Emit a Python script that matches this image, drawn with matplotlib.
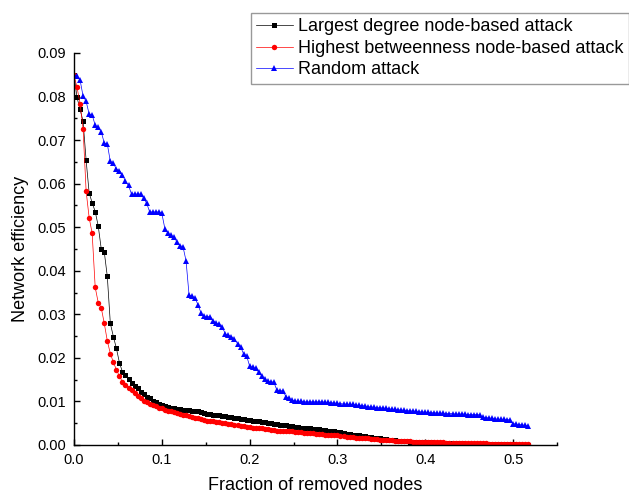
import numpy as np
import matplotlib
matplotlib.use("Agg")
import matplotlib.pyplot as plt
from matplotlib.ticker import MultipleLocator

plt.rcParams['font.family'] = ['Liberation Sans', 'DejaVu Sans']

# fraction of removed nodes = k / n_nodes
n_nodes = 290

degree_attack = [
    0.0849, 0.0798, 0.0771, 0.0743, 0.0654, 0.0579, 0.0556, 0.0536, 0.0503, 0.0450,
    0.0443, 0.0387, 0.0279, 0.0249, 0.0222, 0.0189, 0.0168, 0.0160, 0.0152, 0.0143,
    0.0136, 0.0130, 0.0122, 0.0117, 0.0111, 0.0107, 0.0102, 0.0098, 0.0094, 0.0091,
    0.0089, 0.0087, 0.0085, 0.0084, 0.0083, 0.0082, 0.0081, 0.0081, 0.0080, 0.0079,
    0.0078, 0.0077, 0.0076, 0.0074, 0.0072, 0.0071, 0.0070, 0.0069, 0.0068, 0.0067,
    0.0066, 0.0065, 0.0064, 0.0062, 0.0061, 0.0060, 0.0059, 0.0058, 0.0057, 0.0056,
    0.0055, 0.0054, 0.0053, 0.0052, 0.0051, 0.0050, 0.0049, 0.0048, 0.0047, 0.0046,
    0.0045, 0.0044, 0.0043, 0.0042, 0.0041, 0.0040, 0.0039, 0.0039, 0.0038, 0.0037,
    0.0037, 0.0036, 0.0035, 0.0034, 0.0033, 0.0032, 0.0031, 0.0030, 0.0029, 0.0027,
    0.0026, 0.0025, 0.0024, 0.0023, 0.0022, 0.0021, 0.0020, 0.0019, 0.0018, 0.0017,
    0.0016, 0.0015, 0.0014, 0.0013, 0.0012, 0.0012, 0.0011, 0.0010, 0.0010, 0.0009,
    0.0009, 0.0008, 0.0008, 0.0007, 0.0007, 0.0007, 0.0006, 0.0006, 0.0006, 0.0005,
    0.0005, 0.0005, 0.0005, 0.0005, 0.0004, 0.0004, 0.0004, 0.0004, 0.0004, 0.0003,
    0.0003, 0.0003, 0.0003, 0.0003, 0.0003, 0.0003, 0.0003, 0.0002, 0.0002, 0.0002,
    0.0002, 0.0002, 0.0002, 0.0002, 0.0002, 0.0002, 0.0001, 0.0001, 0.0001, 0.0001,
    0.0001,
]

betweenness_attack = [
    0.0849, 0.0821, 0.0784, 0.0726, 0.0583, 0.0522, 0.0486, 0.0362, 0.0327, 0.0315,
    0.0279, 0.0239, 0.0210, 0.0190, 0.0173, 0.0158, 0.0145, 0.0138, 0.0132, 0.0126,
    0.0119, 0.0113, 0.0107, 0.0102, 0.0098, 0.0095, 0.0091, 0.0089, 0.0086, 0.0084,
    0.0081, 0.0079, 0.0077, 0.0075, 0.0073, 0.0071, 0.0070, 0.0068, 0.0066, 0.0065,
    0.0063, 0.0061, 0.0059, 0.0058, 0.0056, 0.0055, 0.0054, 0.0053, 0.0052, 0.0051,
    0.0050, 0.0049, 0.0048, 0.0047, 0.0046, 0.0044, 0.0043, 0.0042, 0.0041, 0.0040,
    0.0039, 0.0038, 0.0038, 0.0037, 0.0036, 0.0035, 0.0034, 0.0033, 0.0033, 0.0032,
    0.0032, 0.0031, 0.0031, 0.0030, 0.0030, 0.0029, 0.0028, 0.0028, 0.0027, 0.0027,
    0.0026, 0.0026, 0.0025, 0.0024, 0.0024, 0.0023, 0.0022, 0.0022, 0.0021, 0.0020,
    0.0019, 0.0019, 0.0018, 0.0017, 0.0017, 0.0016, 0.0015, 0.0015, 0.0014, 0.0014,
    0.0013, 0.0012, 0.0012, 0.0011, 0.0011, 0.0011, 0.0010, 0.0010, 0.0010, 0.0009,
    0.0009, 0.0009, 0.0008, 0.0008, 0.0008, 0.0007, 0.0007, 0.0007, 0.0007, 0.0006,
    0.0006, 0.0006, 0.0006, 0.0005, 0.0005, 0.0005, 0.0005, 0.0005, 0.0004, 0.0004,
    0.0004, 0.0004, 0.0004, 0.0004, 0.0004, 0.0004, 0.0004, 0.0003, 0.0003, 0.0003,
    0.0003, 0.0003, 0.0003, 0.0003, 0.0003, 0.0002, 0.0002, 0.0002, 0.0002, 0.0002,
    0.0002,
]

random_attack = [
    0.0849, 0.0847, 0.0838, 0.0801, 0.0789, 0.0760, 0.0758, 0.0734, 0.0729, 0.0719,
    0.0693, 0.0691, 0.0651, 0.0647, 0.0633, 0.0630, 0.0621, 0.0605, 0.0596, 0.0576,
    0.0576, 0.0576, 0.0576, 0.0567, 0.0555, 0.0535, 0.0535, 0.0535, 0.0535, 0.0532,
    0.0497, 0.0486, 0.0481, 0.0478, 0.0466, 0.0458, 0.0455, 0.0423, 0.0344, 0.0342,
    0.0337, 0.0321, 0.0302, 0.0296, 0.0295, 0.0295, 0.0285, 0.0280, 0.0278, 0.0270,
    0.0255, 0.0252, 0.0249, 0.0243, 0.0233, 0.0226, 0.0209, 0.0205, 0.0181, 0.0178,
    0.0176, 0.0167, 0.0158, 0.0152, 0.0146, 0.0145, 0.0144, 0.0126, 0.0125, 0.0124,
    0.0111, 0.0107, 0.0103, 0.0101, 0.0100, 0.0100, 0.0099, 0.0099, 0.0099, 0.0099,
    0.0099, 0.0099, 0.0099, 0.0098, 0.0098, 0.0097, 0.0096, 0.0096, 0.0095, 0.0094,
    0.0094, 0.0093, 0.0093, 0.0092, 0.0091, 0.0090, 0.0090, 0.0088, 0.0087, 0.0087,
    0.0086, 0.0085, 0.0085, 0.0084, 0.0083, 0.0082, 0.0082, 0.0081, 0.0080, 0.0080,
    0.0079, 0.0078, 0.0078, 0.0077, 0.0076, 0.0076, 0.0075, 0.0075, 0.0074, 0.0074,
    0.0073, 0.0073, 0.0073, 0.0072, 0.0072, 0.0072, 0.0071, 0.0071, 0.0071, 0.0071,
    0.0070, 0.0070, 0.0070, 0.0070, 0.0069, 0.0064, 0.0063, 0.0062, 0.0061, 0.0060,
    0.0059, 0.0059, 0.0059, 0.0058, 0.0058, 0.0049, 0.0048, 0.0047, 0.0046, 0.0045,
    0.0044,
]

labels = ['Largest degree node-based attack',
          'Highest betweenness node-based attack',
          'Random attack']

fig = plt.figure(figsize=(6.29, 4.95), dpi=100)
ax = fig.add_axes([74 / 629, 1 - 445 / 495, 483 / 629, 392 / 495])

series = [(degree_attack, 'black', 's', 3.6),
          (betweenness_attack, 'red', 'o', 3.9),
          (random_attack, 'blue', '^', 4.6)]
for (vals, col, mk, ms), lab in zip(series, labels):
    frac = np.arange(len(vals)) / n_nodes
    ax.plot(frac, vals, color=col, lw=0.5, marker=mk, ms=ms,
            markeredgewidth=0, label=lab)

ax.set_xlim(0, 0.55)
ax.set_ylim(0, 0.09)
ax.xaxis.set_major_locator(MultipleLocator(0.1))
ax.xaxis.set_minor_locator(MultipleLocator(0.05))
ax.yaxis.set_major_locator(MultipleLocator(0.01))
ax.yaxis.set_minor_locator(MultipleLocator(0.005))
ax.xaxis.set_major_formatter(plt.FormatStrFormatter('%.1f'))
ax.yaxis.set_major_formatter(plt.FormatStrFormatter('%.2f'))

for s in ['top', 'right']:
    ax.spines[s].set_visible(False)
for s in ['left', 'bottom']:
    ax.spines[s].set_linewidth(1.0)

ax.tick_params(which='major', direction='in', length=4, width=1,
               labelsize=10.5, pad=6)
ax.tick_params(which='minor', direction='in', length=2.2, width=1)

ax.set_xlabel('Fraction of removed nodes', fontsize=13, labelpad=7)
ax.set_ylabel('Network efficiency', fontsize=13, labelpad=6)

leg = fig.legend(loc='upper left', bbox_to_anchor=(251 / 629, 1 - 13 / 495),
                 fontsize=13, frameon=True, fancybox=False, handlelength=2.0,
                 handletextpad=0.3, labelspacing=0.25, borderpad=0.3,
                 borderaxespad=0, markerscale=1.0)
leg.get_frame().set_edgecolor('#808080')
leg.get_frame().set_linewidth(1.0)

fig.savefig('out.png', dpi=100)
